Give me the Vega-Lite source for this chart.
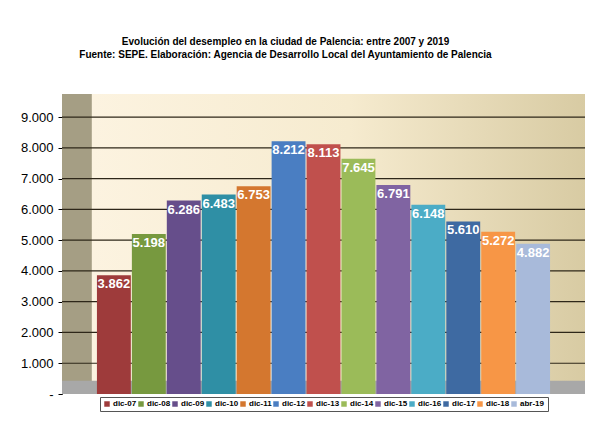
{
  "$schema": "https://vega.github.io/schema/vega-lite/v6.json",
  "width": 523,
  "height": 300,
  "autosize": {"type": "none"},
  "padding": {"left": 62, "top": 94, "right": 15, "bottom": 27},
  "background": "white",
  "config": {
    "font": "Liberation Sans",
    "view": {"stroke": null},
    "locale": {"number": {"decimal": ",", "thousands": ".", "grouping": [3], "currency": ["", " €"]}},
    "legend": {"layout": {"bottom": {"anchor": "middle"}}},
    "axisY": {
      "labelOverlap": false,
      "labelFlush": false,
      "labelFontSize": 13,
      "labelColor": "black",
      "labelPadding": 5,
      "grid": false,
      "domainColor": "black",
      "tickColor": "black",
      "tickSize": 4
    }
  },
  "title": {
    "text": [
      "Evolución del desempleo en  la ciudad de Palencia: entre 2007 y 2019",
      "Fuente: SEPE. Elaboración: Agencia de Desarrollo Local del Ayuntamiento de Palencia"
    ],
    "fontSize": 10,
    "fontWeight": "bold",
    "color": "black",
    "lineHeight": 13,
    "anchor": "middle",
    "frame": "group",
    "dx": -38,
    "offset": 34
  },
  "data": {
    "values": [
      {"periodo": "dic-07", "parados": 3862},
      {"periodo": "dic-08", "parados": 5198},
      {"periodo": "dic-09", "parados": 6286},
      {"periodo": "dic-10", "parados": 6483},
      {"periodo": "dic-11", "parados": 6753},
      {"periodo": "dic-12", "parados": 8212},
      {"periodo": "dic-13", "parados": 8113},
      {"periodo": "dic-14", "parados": 7645},
      {"periodo": "dic-15", "parados": 6791},
      {"periodo": "dic-16", "parados": 6148},
      {"periodo": "dic-17", "parados": 5610},
      {"periodo": "dic-18", "parados": 5272},
      {"periodo": "abr-19", "parados": 4882}
    ]
  },
  "layer": [
    {
      "data": {"values": [{}]},
      "mark": {
        "type": "rect",
        "color": {
          "gradient": "linear",
          "stops": [
            {"offset": 0, "color": "#a59e84"},
            {"offset": 0.056, "color": "#a59e84"},
            {"offset": 0.058, "color": "#fcf3e0"},
            {"offset": 0.55, "color": "#f6ebcf"},
            {"offset": 1, "color": "#d8cba3"}
          ]
        }
      },
      "encoding": {}
    },
    {
      "data": {"values": [{}]},
      "mark": {"type": "rect", "color": "#a8a8a8"},
      "encoding": {
        "y": {
          "datum": 0,
          "type": "quantitative",
          "title": null,
          "scale": {"domain": [0, 9750], "nice": false},
          "axis": {
            "values": [0, 1000, 2000, 3000, 4000, 5000, 6000, 7000, 8000, 9000],
            "labelExpr": "datum.value == 0 ? '-' : replace(format(datum.value, ','), ',', '.')",
            "labelOverlap": false
          }
        },
        "y2": {"datum": 430}
      }
    },
    {
      "data": {
        "values": [
          {"v": 1000}, {"v": 2000}, {"v": 3000}, {"v": 4000}, {"v": 5000},
          {"v": 6000}, {"v": 7000}, {"v": 8000}, {"v": 9000}
        ]
      },
      "mark": {"type": "rule", "color": "#2e2719", "strokeWidth": 1.2},
      "encoding": {
        "y": {
          "field": "v",
          "type": "quantitative",
          "title": null,
          "axis": {
            "values": [0, 1000, 2000, 3000, 4000, 5000, 6000, 7000, 8000, 9000],
            "labelExpr": "datum.value == 0 ? '-' : replace(format(datum.value, ','), ',', '.')",
            "labelOverlap": false
          }
        }
      }
    },
    {
      "mark": {"type": "bar"},
      "encoding": {
        "x": {
          "field": "periodo",
          "type": "nominal",
          "sort": null,
          "axis": null,
          "scale": {"paddingInner": 0.03, "paddingOuter": 1.05}
        },
        "y": {
          "field": "parados",
          "type": "quantitative",
          "title": null,
          "axis": {
            "values": [0, 1000, 2000, 3000, 4000, 5000, 6000, 7000, 8000, 9000],
            "labelExpr": "datum.value == 0 ? '-' : replace(format(datum.value, ','), ',', '.')",
            "labelOverlap": false
          }
        },
        "color": {
          "field": "periodo",
          "type": "nominal",
          "sort": null,
          "scale": {
            "range": [
              "#9e3b3b", "#77993f", "#664e8b", "#2f8fa5", "#d4772f", "#4a7ec2",
              "#c0504d", "#9bbb59", "#8064a2", "#4bacc6", "#3e6aa2", "#f79646", "#a8bada"
            ]
          },
          "legend": {
            "title": null,
            "orient": "bottom",
            "direction": "horizontal",
            "columns": 13,
            "symbolType": "square",
            "symbolSize": 30,
            "symbolStrokeWidth": 0,
            "labelFontSize": 8,
            "labelFontWeight": "bold",
            "labelColor": "black",
            "labelOffset": 2,
            "columnPadding": 0,
            "padding": 3,
            "offset": 3,
            "strokeColor": "#555555",
            "fillColor": "white"
          }
        }
      }
    },
    {
      "transform": [
        {"calculate": "replace(format(datum.parados, ','), ',', '.')", "as": "etiqueta"}
      ],
      "mark": {
        "type": "text",
        "color": "white",
        "fontWeight": "bold",
        "fontSize": 13,
        "baseline": "top",
        "dy": 3
      },
      "encoding": {
        "x": {"field": "periodo", "type": "nominal", "sort": null},
        "y": {
          "field": "parados",
          "type": "quantitative",
          "title": null,
          "axis": {
            "values": [0, 1000, 2000, 3000, 4000, 5000, 6000, 7000, 8000, 9000],
            "labelExpr": "datum.value == 0 ? '-' : replace(format(datum.value, ','), ',', '.')",
            "labelOverlap": false
          }
        },
        "text": {"field": "etiqueta"}
      }
    }
  ]
}
